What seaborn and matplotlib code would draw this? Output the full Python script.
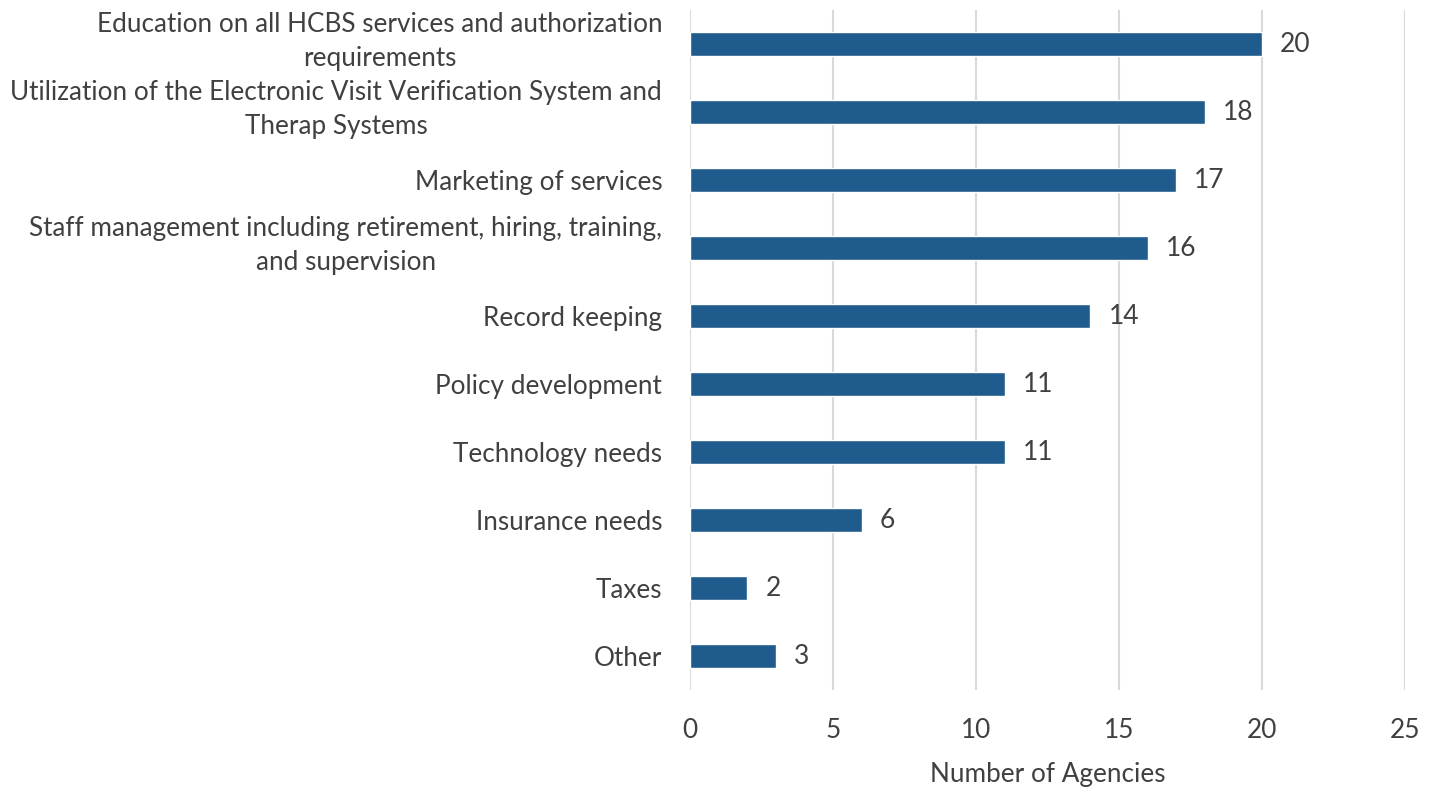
import matplotlib
matplotlib.use("Agg")
import matplotlib.pyplot as plt
import matplotlib.transforms as mtransforms
import seaborn as sns
import pandas as pd

categories = [
    "Education on all HCBS services and authorization\nrequirements",
    "Utilization of the Electronic Visit Verification System and\nTherap Systems",
    "Marketing of services",
    "Staff management including retirement, hiring, training,\nand supervision",
    "Record keeping",
    "Policy development",
    "Technology needs",
    "Insurance needs",
    "Taxes",
    "Other",
]
agencies = [20, 18, 17, 16, 14, 11, 11, 6, 2, 3]
x_ticks = [0, 5, 10, 15, 20, 25]

df = pd.DataFrame({"category": categories, "agencies": agencies})

sns.set_theme(style="white")
plt.rcParams["font.family"] = ["Lato", "DejaVu Sans"]
text_color = "#404040"
bar_color = "#1F5B8C"

fig = plt.figure(figsize=(14.36, 7.91), dpi=100)
ax = fig.add_axes([690 / 1436, 1 - 690 / 791, 715 / 1436, 680 / 791])

sns.barplot(data=df, x="agencies", y="category", orient="h",
            color=bar_color, width=0.34, saturation=1, ax=ax)

ax.set_xlim(0, 25)
ax.set_ylim(9.5, -0.5)
ax.set_xticks(x_ticks)
ax.xaxis.grid(True, color="#D9D9D9", linewidth=1.5)
ax.set_axisbelow(True)
for s in ax.spines.values():
    s.set_visible(False)

ax.tick_params(axis="x", length=0, pad=20, labelsize=18.8, labelcolor=text_color)
ax.tick_params(axis="y", length=0, pad=20, labelsize=18.8, labelcolor=text_color)

# two-line category labels sit slightly above their bars
lift = mtransforms.ScaledTranslation(0, 6.5 / 72, fig.dpi_scale_trans)
for lbl in ax.get_yticklabels():
    lbl.set_multialignment("center")
    lbl.set_linespacing(1.45)
    if "\n" in lbl.get_text():
        lbl.set_transform(lbl.get_transform() + lift)

ax.set_ylabel("")
ax.set_xlabel("Number of Agencies", fontsize=18.8, color=text_color, labelpad=14)

for cont in ax.containers:
    ax.bar_label(cont, labels=[str(v) for v in agencies], padding=13,
                 fontsize=19, color=text_color)

fig.savefig("out.png", dpi=100)
